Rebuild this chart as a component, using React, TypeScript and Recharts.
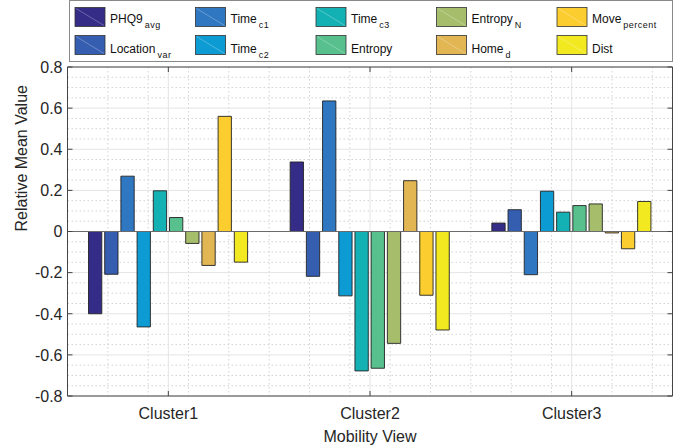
import React from 'react';
import { BarChart, Bar, XAxis, YAxis, CartesianGrid, ReferenceLine, Legend } from 'recharts';

const categories = ['Cluster1', 'Cluster2', 'Cluster3'];
const phq9Avg = [-0.4, 0.338, 0.041];
const locationVar = [-0.208, -0.218, 0.106];
const timeC1 = [0.269, 0.635, -0.21];
const timeC2 = [-0.464, -0.313, 0.196];
const timeC3 = [0.198, -0.678, 0.094];
const entropy = [0.068, -0.665, 0.126];
const entropyN = [-0.058, -0.544, 0.134];
const homeD = [-0.165, 0.247, -0.007];
const movePercent = [0.56, -0.31, -0.084];
const dist = [-0.149, -0.479, 0.146];

const yTicks = [-0.8, -0.6, -0.4, -0.2, 0, 0.2, 0.4, 0.6, 0.8];
const yMinor = [-0.75, -0.7, -0.65, -0.55, -0.5, -0.45, -0.35, -0.3, -0.25, -0.15, -0.1, -0.05,
  0.05, 0.1, 0.15, 0.25, 0.3, 0.35, 0.45, 0.5, 0.55, 0.65, 0.7, 0.75];
const xMinor = [0.6, 0.7, 0.8, 0.9, 1.1, 1.2, 1.3, 1.4, 1.5, 1.6, 1.7, 1.8, 1.9,
  2.1, 2.2, 2.3, 2.4, 2.5, 2.6, 2.7, 2.8, 2.9, 3.1, 3.2, 3.3, 3.4];

const series = [
  { key: 'phq9Avg', main: 'PHQ9', sub: 'avg', color: '#352c87', values: phq9Avg },
  { key: 'locationVar', main: 'Location', sub: 'var', color: '#355db0', values: locationVar },
  { key: 'timeC1', main: 'Time', sub: 'c1', color: '#2f77c1', values: timeC1 },
  { key: 'timeC2', main: 'Time', sub: 'c2', color: '#0c9bd2', values: timeC2 },
  { key: 'timeC3', main: 'Time', sub: 'c3', color: '#13b1b3', values: timeC3 },
  { key: 'entropy', main: 'Entropy', sub: '', color: '#57c08c', values: entropy },
  { key: 'entropyN', main: 'Entropy', sub: 'N', color: '#a6be6c', values: entropyN },
  { key: 'homeD', main: 'Home', sub: 'd', color: '#e2b653', values: homeD },
  { key: 'movePercent', main: 'Move', sub: 'percent', color: '#fccd2f', values: movePercent },
  { key: 'dist', main: 'Dist', sub: '', color: '#f2e920', values: dist },
];

const data = categories.map((c, i) => {
  const row: any = { cluster: c, idx: i + 1 };
  series.forEach((s) => { row[s.key] = s.values[i]; });
  return row;
});

const FONT = '"Liberation Sans", Arial, Helvetica, sans-serif';
const TXT = '#262626';
const AXIS = '#444';

const fmt = (v: number) => (v === 0 ? '0' : String(v));

const LeftTick = (props: any) => {
  const { x, y, payload } = props;
  return (
    <g>
      <line x1={x} x2={x + 5} y1={y} y2={y} stroke={AXIS} strokeWidth={1} />
      <text x={x - 5} y={y} dy={5.8} textAnchor="end" fontSize={16} fontFamily={FONT} fill={TXT}>
        {fmt(payload.value)}
      </text>
    </g>
  );
};

const RightTick = (props: any) => {
  const { x, y } = props;
  return <line x1={x} x2={x - 5} y1={y} y2={y} stroke={AXIS} strokeWidth={1} />;
};

const BottomTick = (props: any) => {
  const { x, y, payload } = props;
  return (
    <g>
      <line x1={x} x2={x} y1={y} y2={y - 5} stroke={AXIS} strokeWidth={1} />
      <text x={x} y={y + 23} textAnchor="middle" fontSize={16} fontFamily={FONT} fill={TXT}>
        {payload.value}
      </text>
    </g>
  );
};

const TopTick = (props: any) => {
  const { x, y } = props;
  return <line x1={x} x2={x} y1={y} y2={y + 5} stroke={AXIS} strokeWidth={1} />;
};

const LegendBox = () => {
  const colX = [75, 195.5, 316, 436.5, 557];
  const rowY = [7.5, 35.5];
  const baseY = [22.5, 52.5];
  return (
    <svg width={680} height={62} style={{ display: 'block' }}>
      <rect x={69.5} y={0.5} width={603} height={61} fill="#fff" stroke="#8a8a8a" strokeWidth={1} />
      {series.map((s, i) => {
        const col = Math.floor(i / 2);
        const row = i % 2;
        const x = colX[col];
        const y = rowY[row];
        return (
          <g key={s.key}>
            <rect x={x} y={y} width={30} height={19} fill={s.color} stroke="#333" strokeWidth={0.8} />
            <line x1={x + 1} y1={y + 1} x2={x + 29} y2={y + 18} stroke="rgba(255,255,255,0.35)" strokeWidth={0.8} />
            <text x={x + 35} y={baseY[row]} fontSize={12} fontFamily={FONT} fill="#111">
              {s.main}
              {s.sub ? (
                <tspan dx={2} dy={5} fontSize={9} letterSpacing={0.5}>{s.sub}</tspan>
              ) : null}
            </text>
          </g>
        );
      })}
    </svg>
  );
};

export default function App() {
  return (
    <div style={{ position: 'absolute', left: 0, top: 0, width: 680, height: 448, background: '#fff' }}>
      <BarChart
        width={680}
        height={448}
        data={data}
        margin={{ top: 3, right: 5.5, bottom: 22, left: 7.5 }}
        barSize={13.3}
        barGap={2.9}
        barCategoryGap={0}
      >
        <Legend
          verticalAlign="top"
          content={() => <LegendBox />}
          wrapperStyle={{ top: 0, left: 0, width: 680, height: 62 }}
        />
        <CartesianGrid
          xAxisId="num"
          horizontalValues={yMinor}
          verticalValues={xMinor}
          stroke="#d2d2d2"
          strokeDasharray="1.5 2.5"
          strokeWidth={1}
        />
        <CartesianGrid stroke="#e4e4e4" strokeWidth={1} />
        <XAxis
          dataKey="cluster"
          type="category"
          height={30}
          tickSize={0}
          tickMargin={0}
          tickLine={false}
          axisLine={{ stroke: AXIS, strokeWidth: 1 }}
          tick={<BottomTick />}
          interval={0}
          padding={{ left: 0, right: 0 }}
          label={{ value: 'Mobility View', position: 'insideBottom', offset: -15.5, fontSize: 16, fontFamily: FONT, fill: TXT }}
        />
        <XAxis
          xAxisId="top"
          dataKey="cluster"
          type="category"
          orientation="top"
          height={2}
          tickSize={0}
          tickMargin={0}
          tickLine={false}
          axisLine={{ stroke: AXIS, strokeWidth: 1 }}
          tick={<TopTick />}
          interval={0}
        />
        <XAxis xAxisId="num" dataKey="idx" type="number" domain={[0.5, 3.5]} hide allowDataOverflow />
        <YAxis
          domain={[-0.8, 0.8]}
          ticks={yTicks}
          width={60}
          tickSize={0}
          tickMargin={0}
          tickLine={false}
          interval={0}
          axisLine={{ stroke: AXIS, strokeWidth: 1 }}
          tick={<LeftTick />}
          allowDataOverflow
          label={{ value: 'Relative Mean Value', angle: -90, position: 'insideLeft', offset: 0, fontSize: 16, fontFamily: FONT, fill: TXT, dx: 14 }}
        />
        <YAxis
          yAxisId="r"
          orientation="right"
          domain={[-0.8, 0.8]}
          ticks={yTicks}
          width={2}
          tickSize={0}
          tickMargin={0}
          tickLine={false}
          interval={0}
          axisLine={{ stroke: AXIS, strokeWidth: 1 }}
          tick={<RightTick />}
          allowDataOverflow
        />
        {series.map((s) => (
          <Bar key={s.key} dataKey={s.key} fill={s.color} stroke="#222" strokeWidth={0.9} isAnimationActive={false} />
        ))}
        <ReferenceLine y={0} stroke="#6b6b6b" strokeWidth={1} />
      </BarChart>
    </div>
  );
}
